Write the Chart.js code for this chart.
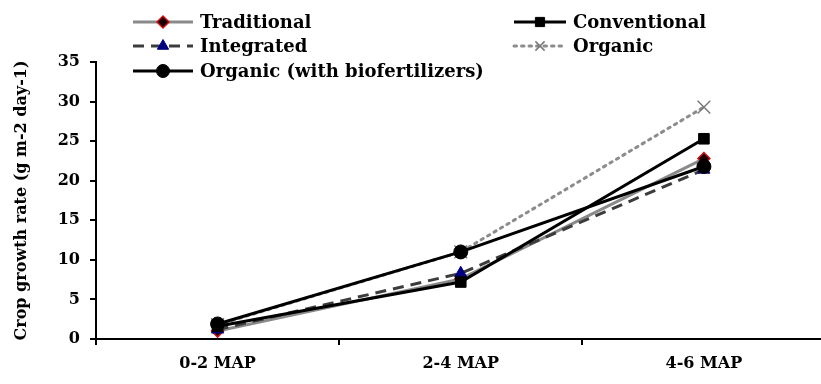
<!DOCTYPE html>
<html>
<head>
<meta charset="utf-8">
<script src="https://cdn.jsdelivr.net/npm/chart.js@4/dist/chart.umd.min.js"></script>
<style>
html,body{margin:0;padding:0;background:#fff;overflow:hidden;width:821px;height:384px;}
#wrap{position:absolute;left:0;top:0;width:836px;height:384px;}
</style>
</head>
<body>
<div id="wrap"><canvas id="c" width="836" height="384"></canvas></div>
<script>
const categories = ["0-2 MAP", "2-4 MAP", "4-6 MAP"];
const traditional = [1.0, 7.6, 22.8];
const conventional = [1.6, 7.2, 25.3];
const integrated = [1.2, 8.3, 21.4];
const organic = [1.8, 11.0, 29.3];
const organicBio = [1.9, 11.0, 21.8];
const yTicks = [0, 5, 10, 15, 20, 25, 30, 35];
const yTitle = "Crop growth rate (g m-2 day-1)";

const FONT = "'DejaVu Serif', serif";

const datasets = [
  {label:"Traditional", data:traditional, borderColor:"#8a8a8a", borderWidth:3, order:3,
   pointStyle:"rectRot", pointRadius:6, pointBackgroundColor:"#1a0000", pointBorderColor:"#d01010", pointBorderWidth:1.5, legendCol:0, legendRow:0},
  {label:"Conventional", data:conventional, borderColor:"#000", borderWidth:3, order:1,
   pointStyle:"rect", pointRadius:7.5, pointBackgroundColor:"#000", pointBorderColor:"#000", pointBorderWidth:1, legendCol:1, legendRow:0},
  {label:"Integrated", data:integrated, borderColor:"#3c3c3c", borderWidth:3, borderDash:[11,7], order:2,
   pointStyle:"triangle", pointRadius:7, pointBackgroundColor:"#000080", pointBorderColor:"#000080", pointBorderWidth:1, legendCol:0, legendRow:1},
  {label:"Organic", data:organic, borderColor:"#8c8c8c", borderWidth:3, borderDash:[2.5,5], borderCapStyle:"round", order:4,
   pointStyle:"crossRot", pointRadius:9, pointBackgroundColor:"#7a7a7a", pointBorderColor:"#7a7a7a", pointBorderWidth:1.5, legendCol:1, legendRow:1},
  {label:"Organic (with biofertilizers)", data:organicBio, borderColor:"#000", borderWidth:3, order:0,
   pointStyle:"circle", pointRadius:7, pointBackgroundColor:"#000", pointBorderColor:"#000", pointBorderWidth:1, legendCol:0, legendRow:2}
];
datasets.forEach(d => { d.fill = false; d.tension = 0; });

const legendPlugin = {
  id: "customLegend",
  afterDraw(chart, args, opts) {
    const ctx = chart.ctx;
    ctx.save();
    chart.data.datasets.forEach(ds => {
      const col = opts.cols[ds.legendCol];
      const y = opts.rows[ds.legendRow];
      ctx.save();
      ctx.strokeStyle = ds.borderColor;
      ctx.lineWidth = ds.borderWidth;
      ctx.lineCap = ds.borderCapStyle || "butt";
      ctx.setLineDash(ds.borderDash || []);
      ctx.beginPath();
      ctx.moveTo(col.x0, y);
      ctx.lineTo(col.x1, y);
      ctx.stroke();
      ctx.restore();
      ctx.save();
      ctx.fillStyle = ds.pointBackgroundColor;
      ctx.strokeStyle = ds.pointBorderColor;
      ctx.lineWidth = ds.pointBorderWidth;
      Chart.helpers.drawPoint(ctx, {pointStyle: ds.pointStyle, radius: Math.min(ds.pointRadius, 6.5), rotation: 0, borderWidth: ds.pointBorderWidth}, (col.x0 + col.x1) / 2, y);
      ctx.restore();
      ctx.fillStyle = "#000";
      ctx.font = "bold 18px " + FONT;
      ctx.textBaseline = "middle";
      ctx.textAlign = "left";
      ctx.fillText(ds.label, col.tx, y + 1);
    });
    ctx.restore();
  }
};

new Chart(document.getElementById("c"), {
  type: "line",
  data: { labels: categories, datasets: datasets },
  plugins: [legendPlugin],
  options: {
    responsive: false,
    animation: false,
    layout: { padding: { left: 12, top: 62, right: 5, bottom: 0 } },
    plugins: {
      legend: { display: false },
      tooltip: { enabled: false },
      customLegend: {
        cols: [ {x0:133, x1:193, tx:200}, {x0:514, x1:566, tx:573} ],
        rows: [22, 46, 71]
      }
    },
    scales: {
      x: {
        type: "category",
        offset: true,
        grid: { offset: true, drawOnChartArea: false, drawTicks: true, tickLength: 6, color: "#000", lineWidth: 2 },
        border: { display: true, color: "#000", width: 2 },
        ticks: { color: "#000", padding: 9, font: { family: FONT, size: 16, weight: "bold" } },
        afterFit(scale) { scale.height = 45; }
      },
      y: {
        min: 0, max: 35,
        afterBuildTicks(scale) { scale.ticks = yTicks.map(v => ({ value: v })); },
        grid: { drawOnChartArea: false, drawTicks: true, tickLength: 6, color: "#000", lineWidth: 2 },
        border: { display: true, color: "#000", width: 2 },
        ticks: { color: "#000", padding: 10, font: { family: FONT, size: 16, weight: "bold" } },
        title: { display: true, text: yTitle, color: "#000", padding: 0, font: { family: FONT, size: 16, weight: "bold" } },
        afterFit(scale) { scale.width = 84; }
      }
    }
  }
});
</script>
</body>
</html>
